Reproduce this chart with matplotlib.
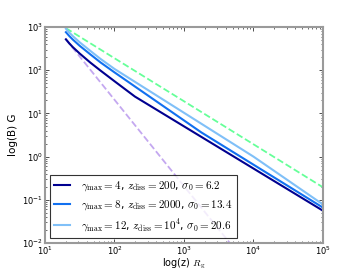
import numpy as np
import matplotlib
matplotlib.use("Agg")
import matplotlib.pyplot as plt

# data
z_g4 = [20, 22.4, 25.1, 31.6, 44.7, 63.1, 100, 197, 1e5]
B_g4 = [519, 417, 343, 243, 151, 97.7, 55.6, 24.5, 0.056]

z_g8 = [20, 22.4, 25.1, 31.6, 44.7, 63.1, 100, 1778, 1e5]
B_g8 = [759, 617, 513, 367, 234, 151, 89.1, 3.63, 0.066]

z_g12 = [20, 22.4, 25.1, 31.6, 44.7, 63.1, 100, 1e4, 1e5]
B_g12 = [912, 741, 617, 442, 282, 182, 107, 1.0, 0.078]

z_ref1 = [20, 1e5]
B_ref1 = [940, 0.195]

z_ref2 = [20, 1e5]
B_ref2 = [516, 2.1e-5]

labels = [r"$\gamma_{\rm max}=4$, $z_{\rm diss}=200$, $\sigma_0=6.2$",
          r"$\gamma_{\rm max}=8$, $z_{\rm diss}=2000$, $\sigma_0=13.4$",
          r"$\gamma_{\rm max}=12$, $z_{\rm diss}=10^4$, $\sigma_0=20.6$"]

plt.rcParams['mathtext.fontset'] = 'cm'

fig = plt.figure(figsize=(3.6, 2.7), dpi=100)
ax = fig.add_axes([0.125, 0.1, 0.772, 0.8])

ax.plot(z_ref2, B_ref2, '--', color='#c4a8f0', lw=1.3)
ax.plot(z_ref1, B_ref1, '--', color='#66ff99', lw=1.3)
ax.plot(z_g4, B_g4, '-', color='#000090', lw=1.5, label=labels[0])
ax.plot(z_g8, B_g8, '-', color='#1170f0', lw=1.5, label=labels[1])
ax.plot(z_g12, B_g12, '-', color='#80c0f8', lw=1.5, label=labels[2])

ax.set_xscale('log')
ax.set_yscale('log')
ax.set_xlim(10, 1e5)
ax.set_ylim(1e-2, 1e3)

for s in ax.spines.values():
    s.set_color('#9a9a9a')
    s.set_linewidth(1.5)

ax.tick_params(which='both', direction='in', top=True, right=True, labelsize=6,
               color='#333333', pad=1.5)
ax.tick_params(which='major', length=3, width=0.6)
ax.tick_params(which='minor', length=1.5, width=0.5)

ax.set_xlabel(r"log(z) $R_{\rm g}$", fontsize=7, labelpad=-0.5)
ax.set_ylabel("log(B) G", fontsize=7.5, labelpad=3)

leg = ax.legend(loc='lower left', fontsize=8, frameon=True, fancybox=False,
                handlelength=1.4, handletextpad=1.0, borderaxespad=0.45,
                labelspacing=0.45, borderpad=0.4)
leg.get_frame().set_edgecolor('black')
leg.get_frame().set_linewidth(0.8)

fig.savefig('out.png', dpi=100)
